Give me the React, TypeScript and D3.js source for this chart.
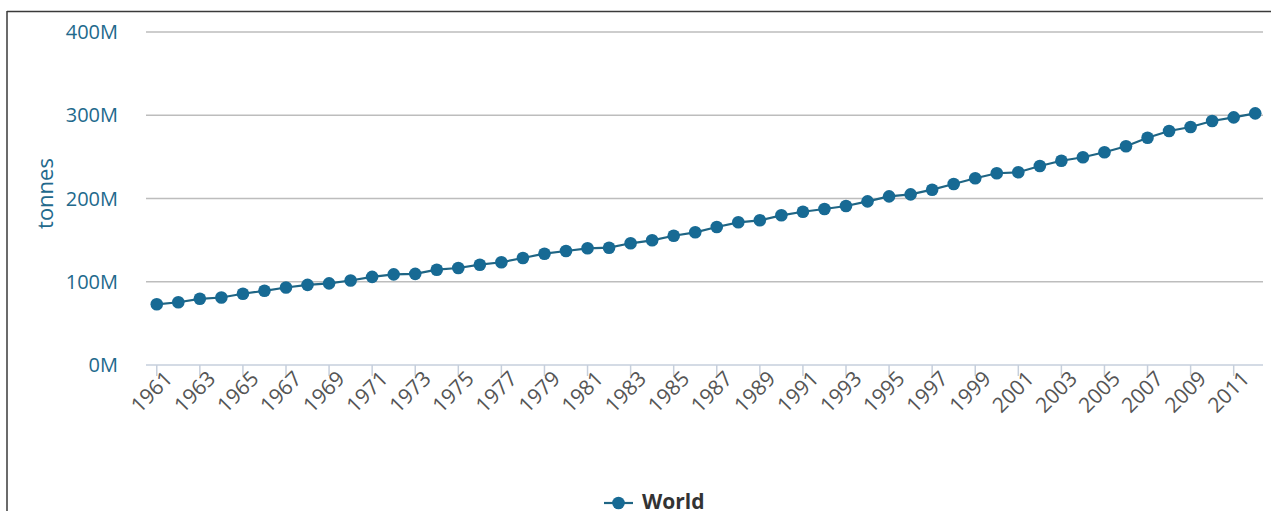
import React from "react";
import * as d3 from "d3";

const years: string[] = [
  "1961","1962","1963","1964","1965","1966","1967","1968","1969","1970",
  "1971","1972","1973","1974","1975","1976","1977","1978","1979","1980",
  "1981","1982","1983","1984","1985","1986","1987","1988","1989","1990",
  "1991","1992","1993","1994","1995","1996","1997","1998","1999","2000",
  "2001","2002","2003","2004","2005","2006","2007","2008","2009","2010",
  "2011","2012",
];

// World production, million tonnes
const worldValues: number[] = [
  72.9, 75.4, 79.5, 81.1, 85.6, 89.1, 93.1, 96.3, 98.1, 101.5,
  105.9, 108.9, 109.5, 114.5, 116.5, 120.5, 123.4, 128.5, 133.7, 136.9,
  140.2, 140.9, 146.2, 149.8, 155.3, 159.4, 165.8, 171.4, 173.8, 179.8,
  184.1, 187.4, 191.0, 196.6, 202.6, 205.0, 210.6, 217.4, 224.3, 230.3,
  231.5, 239.0, 245.4, 249.5, 255.5, 262.7, 273.0, 281.1, 285.9, 293.1,
  297.5, 302.3,
];

const yTicks: number[] = [0, 100, 200, 300, 400];
const seriesName = "World";
const yTitle = "tonnes";

const W = 1271;
const H = 511;
const FONT = "'Open Sans', 'Noto Sans', sans-serif";
const BLUE = "#176a94";
const LINE = "#1f6584";
const LABEL_BLUE = "#22698c";

export default function App() {
  const x = d3.scaleBand<string>().domain(years).range([146, 1266]).paddingInner(0).paddingOuter(0);
  const cx = (yr: string) => (x(yr) as number) + x.bandwidth() / 2;
  const y = d3.scaleLinear().domain([0, 400]).range([365, 32]);

  const line = d3
    .line<number>()
    .x((_, i) => cx(years[i]))
    .y((d) => y(d));

  const labelYears = years.filter((_, i) => i % 2 === 0);

  return (
    <svg
      width={W}
      height={H}
      style={{ position: "absolute", left: 0, top: 0, background: "#fff" }}
      fontFamily={FONT}
    >
      {/* frame */}
      <line x1={7} x2={W} y1={11.5} y2={11.5} stroke="#3a3a3a" strokeWidth={1.5} />
      <line x1={7} x2={7} y1={11} y2={H} stroke="#3a3a3a" strokeWidth={1.5} />

      {/* grid lines */}
      {yTicks.map((t) => (
        <line
          key={"g" + t}
          x1={146}
          x2={1263}
          y1={y(t)}
          y2={y(t)}
          stroke={t === 0 ? "#c6cfdc" : "#bdbdbd"}
          strokeWidth={1.5}
        />
      ))}

      {/* y labels */}
      {yTicks.map((t) => (
        <text
          key={"yl" + t}
          x={118}
          y={y(t) + 7}
          textAnchor="end"
          fontSize={20}
          fill={LABEL_BLUE}
        >
          {t + "M"}
        </text>
      ))}

      {/* y title */}
      <text
        transform={`translate(53, ${y(200) - 5}) rotate(-90)`}
        textAnchor="middle"
        fontSize={22}
        fill={LABEL_BLUE}
      >
        {yTitle}
      </text>

      {/* x ticks & labels */}
      {labelYears.map((yr) => (
        <g key={"x" + yr}>
          <line
            x1={cx(yr)}
            x2={cx(yr)}
            y1={365}
            y2={376}
            stroke="#c6cfdc"
            strokeWidth={1.5}
          />
          <text
            transform={`translate(${cx(yr) + 17}, 380) rotate(-45)`}
            textAnchor="end"
            fontSize={21}
            fill="#555"
          >
            {yr}
          </text>
        </g>
      ))}

      {/* series line */}
      <path d={line(worldValues) || ""} fill="none" stroke={LINE} strokeWidth={2.2} />
      {worldValues.map((v, i) => (
        <circle key={"p" + i} cx={cx(years[i])} cy={y(v)} r={6.3} fill={BLUE} />
      ))}

      {/* legend */}
      <g>
        <line x1={604} x2={633} y1={503} y2={503} stroke={LINE} strokeWidth={2.2} />
        <circle cx={618.5} cy={503} r={6.3} fill={BLUE} />
        <text x={642} y={509} fontSize={21} fontWeight="bold" fill="#333">
          {seriesName}
        </text>
      </g>
    </svg>
  );
}
